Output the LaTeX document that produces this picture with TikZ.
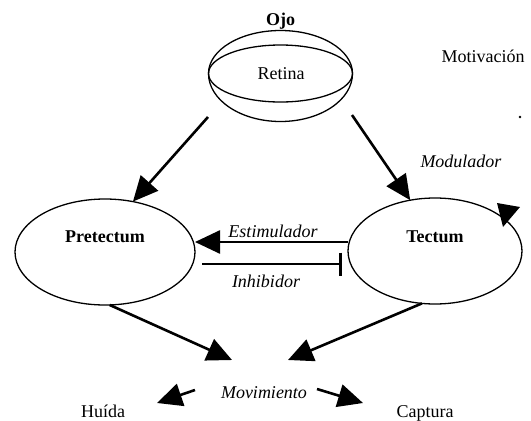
\documentclass[tikz,border=0pt]{standalone}
\usepackage{fontspec}
\setmainfont{Liberation Serif}
\usetikzlibrary{arrows.meta,shapes.geometric}

\tikzset{
txt/.style={font=\fontsize{18}{20}\selectfont,inner sep=0pt,anchor=base},
ovalo/.style={draw,ellipse,line width=1.3pt,inner sep=0pt,outer sep=0pt},
flecha/.style={line width=2.6pt,-{Triangle[length=25pt,width=23pt]}},
freno/.style={line width=2.6pt,-{Bar[width=23pt]}}
}

\begin{document}
\begin{tikzpicture}[x=1pt,y=-1pt]
\useasboundingbox (0,0) rectangle (531,421);
% ojo
\node[txt] (ojo) at (280.5,25) {\textbf{Ojo}};
\node[ovalo,minimum width=144pt,minimum height=57pt] (retina) at (280.5,73.5){};
\node[txt] (ret-txt) at (281,79) {Retina};
\draw[line width=1.3pt] (retina.west) arc[start angle=180,end angle=360,x radius=72,y radius=43];
\draw[line width=1.3pt] (retina.west) arc[start angle=180,end angle=0,x radius=72,y radius=48];
\node[txt] (motiv) at (483,62) {Motivación};
\fill (520,117) circle (1.3pt);
\node[txt] (modul) at (461,167) {\itshape Modulador};
% nucleos
\node[ovalo,minimum width=180pt,minimum height=106pt] (pre) at (105,252){};
\node[ovalo,minimum width=174pt,minimum height=106pt] (tec) at (435,251){};
\node[txt] (pre-txt) at (105,242) {\textbf{Pretectum}};
\node[txt] (tec-txt) at (435,242) {\textbf{Tectum}};
\fill (497,203) -- (520,207) -- (503,227) -- cycle;
\node[txt] (estim) at (273,237) {\itshape Estimulador};
\node[txt] (inhib) at (266,287) {\itshape Inhibidor};
% salidas
\node[txt] (mov) at (264,398) {\itshape Movimiento};
\node[txt] (huida) at (103,417) {Huída};
\node[txt] (captura) at (425,417) {Captura};
\coordinate (ojo-i) at (208,117);
\coordinate (ojo-d) at (352,115);
\coordinate (est-a) at (348,242);
\coordinate (est-b) at (195,242);
\coordinate (inh-a) at (202,264);
\coordinate (inh-b) at (342,264);
\coordinate (mov-i) at (232,360);
\coordinate (mov-d) at (288,360);
\coordinate (hu-a) at (195,390);
\coordinate (hu-b) at (157,403);
\coordinate (ca-a) at (317,389);
\coordinate (ca-b) at (363,403);
\draw[flecha] (ojo-i) -- (pre.61);
\draw[flecha] (ojo-d) -- (tec.116);
\draw[flecha] (est-a) -- (est-b);
\draw[freno] (inh-a) -- (inh-b);
\draw[flecha] (pre.-85) -- (mov-i);
\draw[flecha] (tec.-104) -- (mov-d);
\draw[flecha] (hu-a) -- (hu-b);
\draw[flecha] (ca-a) -- (ca-b);
\end{tikzpicture}
\end{document}
